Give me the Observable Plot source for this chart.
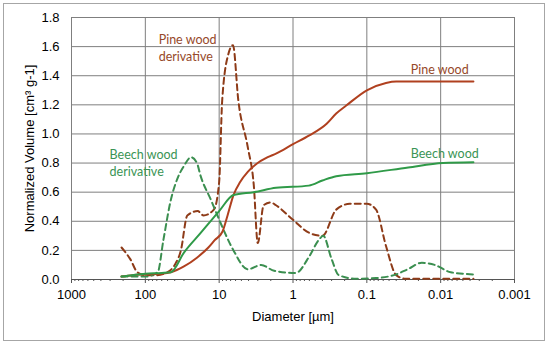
<!DOCTYPE html>
<html>
<head>
<meta charset="utf-8">
<script src="https://cdn.jsdelivr.net/npm/d3@7"></script>
<script src="https://cdn.jsdelivr.net/npm/@observablehq/plot@0.6"></script>
<style>
  html, body { margin: 0; padding: 0; background: #fff; }
  #wrap { position: relative; width: 550px; height: 345px; }
  #border { position: absolute; left: 3px; top: 3px; width: 540px; height: 336px; border: 1px solid #a6a6a6; pointer-events: none; }
</style>
</head>
<body>
<div id="wrap"><div id="border"></div></div>
<script>
// Data
const pineX = [210, 150, 100, 60, 45, 30, 20, 14, 11.5, 9, 7.7, 6.4, 5.2, 4.1, 3.2, 2.2, 1.7, 1.0, 0.6, 0.35, 0.26, 0.19, 0.1, 0.055, 0.04, 0.0036];
const pineY = [0.02, 0.03, 0.035, 0.04, 0.05, 0.09, 0.15, 0.22, 0.27, 0.33, 0.44, 0.58, 0.67, 0.74, 0.79, 0.84, 0.865, 0.93, 0.99, 1.07, 1.14, 1.195, 1.30, 1.35, 1.36, 1.36];

const beechX = [210, 150, 100, 60, 45, 30, 17.8, 10, 6.4, 3.4, 1.7, 0.61, 0.4, 0.26, 0.1, 0.0275, 0.0093, 0.0036];
const beechY = [0.02, 0.03, 0.04, 0.045, 0.05, 0.185, 0.32, 0.47, 0.58, 0.60, 0.63, 0.645, 0.68, 0.71, 0.73, 0.77, 0.80, 0.805];

const pineDerX = [210, 160, 128, 100, 70, 50, 40, 33, 27, 19.5, 16.3, 11.8, 10, 9.1, 7.5, 6.5, 5.5, 4.1, 3.4, 3.0, 2.5, 2.0, 1.7, 1.0, 0.6, 0.4, 0.26, 0.17, 0.1, 0.075, 0.055, 0.04, 0.03, 0.0036];
const pineDerY = [0.22, 0.14, 0.05, 0.03, 0.03, 0.05, 0.10, 0.2, 0.44, 0.47, 0.44, 0.48, 0.67, 1.23, 1.55, 1.61, 1.23, 0.91, 0.65, 0.25, 0.51, 0.53, 0.51, 0.41, 0.32, 0.30, 0.48, 0.52, 0.52, 0.48, 0.23, 0.03, 0.005, 0.005];

const beechDerX = [210, 100, 68, 57, 45, 37, 30, 24, 20, 17.8, 13, 9.6, 6.4, 4.1, 2.7, 1.8, 0.92, 0.6, 0.45, 0.39, 0.3, 0.24, 0.14, 0.075, 0.04, 0.028, 0.018, 0.012, 0.0073, 0.0036];
const beechDerY = [0.02, 0.02, 0.05, 0.27, 0.55, 0.69, 0.78, 0.84, 0.80, 0.71, 0.55, 0.39, 0.20, 0.07, 0.10, 0.06, 0.045, 0.16, 0.27, 0.30, 0.14, 0.03, 0.005, 0.01, 0.035, 0.07, 0.115, 0.10, 0.05, 0.035];

const xTicks = [1000, 100, 10, 1, 0.1, 0.01, 0.001];
const xTickLabels = ["1000", "100", "10", "1", "0.1", "0.01", "0.001"];
const yTicks = [0, 0.2, 0.4, 0.6, 0.8, 1.0, 1.2, 1.4, 1.6, 1.8];

// Annotations: derivative labels are left-aligned, curve labels centred
const derivLabelText = ["Pine wood\nderivative", "Beech wood\nderivative"];
const derivLabelX = [66, 305];
const derivLabelY = [1.597, 0.807];
const derivLabelSeries = ["pine", "beech"];
const curveLabelText = ["Pine wood", "Beech wood"];
const curveLabelX = [0.0103, 0.0088];
const curveLabelY = [1.442, 0.865];
const curveLabelSeries = ["pine", "beech"];

// Build tables
const toRows = (xs, ys) => xs.map((x, i) => ({x, y: ys[i]}));
const minorTicks = [];
for (let e = -3; e < 3; e++) for (let k = 2; k <= 9; k++) minorTicks.push(k * Math.pow(10, e));
const derivLabels = derivLabelText.map((t, i) => ({t, x: derivLabelX[i], y: derivLabelY[i], s: derivLabelSeries[i]}));
const curveLabels = curveLabelText.map((t, i) => ({t, x: curveLabelX[i], y: curveLabelY[i], s: curveLabelSeries[i]}));

const pineCol = "#b0401f";
const pineDash = "#8e3b18";
const beechCol = "#2f9a48";
const beechDash = "#3b8f50";
const pineText = "#96492a";
const beechText = "#3a9455";
const labelFill = d => d.s === "pine" ? pineText : beechText;
const labelFont = "Lato, 'Open Sans', sans-serif";

const chart = Plot.plot({
  width: 550,
  height: 345,
  marginLeft: 71,
  marginRight: 36,
  marginTop: 17,
  marginBottom: 66,
  style: {fontFamily: "'Liberation Sans', Arial, sans-serif", fontSize: "13px", color: "#000", background: "transparent"},
  x: {type: "log", domain: [1000, 0.001]},
  y: {domain: [0, 1.8]},
  marks: [
    Plot.ruleY(yTicks, {stroke: "#7f7f7f", strokeWidth: 1}),
    Plot.ruleX(xTicks, {stroke: "#7f7f7f", strokeWidth: 1}),
    Plot.axisY(yTicks, {tickSize: 0, tickPadding: 12, tickFormat: d => d.toFixed(1), fontSize: 13,
      label: "Normalized Volume [cm³ g-1]", labelAnchor: "center", labelArrow: "none", labelOffset: 47}),
    Plot.axisX(minorTicks, {tickSize: 2, text: null, label: null, stroke: "#555"}),
    Plot.axisX(xTicks, {tickSize: 4, tickPadding: 6, tickFormat: d => xTickLabels[xTicks.indexOf(d)], fontSize: 13, stroke: "#555",
      label: "Diameter [µm]", labelAnchor: "center", labelArrow: "none", labelOffset: 41}),
    Plot.ruleY([0], {stroke: "#555", strokeWidth: 1.2}),
    Plot.line(toRows(pineDerX, pineDerY), {x: "x", y: "y", stroke: pineDash, strokeWidth: 2, strokeDasharray: "6,4", curve: "monotone-x"}),
    Plot.line(toRows(beechDerX, beechDerY), {x: "x", y: "y", stroke: beechDash, strokeWidth: 2, strokeDasharray: "6,4", curve: "monotone-x"}),
    Plot.line(toRows(pineX, pineY), {x: "x", y: "y", stroke: pineCol, strokeWidth: 2, curve: "monotone-x"}),
    Plot.line(toRows(beechX, beechY), {x: "x", y: "y", stroke: beechCol, strokeWidth: 2, curve: "monotone-x"}),
    Plot.text(derivLabels, {x: "x", y: "y", text: "t", textAnchor: "start", fill: labelFill,
      fontFamily: labelFont, fontSize: 12.5, lineHeight: 1.35}),
    Plot.text(curveLabels, {x: "x", y: "y", text: "t", textAnchor: "middle", fill: labelFill,
      fontFamily: labelFont, fontSize: 12.5})
  ]
});
document.getElementById("wrap").prepend(chart);
</script>
</body>
</html>
